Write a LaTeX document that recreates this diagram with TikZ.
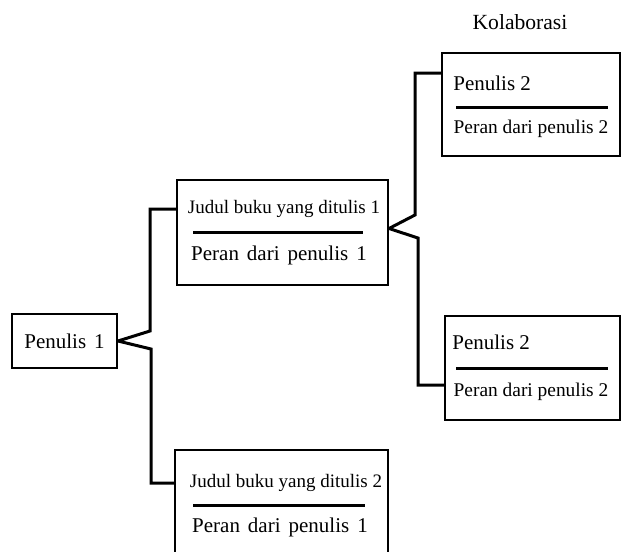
\documentclass[tikz,border=0pt]{standalone}
\usepackage{fontspec}
\setmainfont{Liberation Serif}
\usepackage{tikz}
\usetikzlibrary{positioning, calc}
\newcommand{\widegap}{\spaceskip=4pt plus 1pt minus 0.5pt\relax}
\tikzset{
  rolebox/.style={
    draw, line width=1pt, inner sep=0pt, fill=white
  },
  roletitle/.style={
    font=\fontsize{9.5}{11}\selectfont, inner sep=0pt
  },
  roletext/.style={
    font=\fontsize{10.5}{12}\selectfont\widegap, inner sep=0pt
  },
  roletextsmall/.style={
    font=\fontsize{9.7}{11}\selectfont, inner sep=0pt
  },
  rolerule/.style={line width=1.5pt},
  branchline/.style={line width=1.5pt},
}

\begin{document}
\begin{tikzpicture}[x=0.5pt, y=-0.5pt]
  \useasboundingbox (0,0) rectangle (622,552);

  % ── Penulis utama ──────────────────────────────────────────────
  \node[rolebox, minimum width=52.5pt, minimum height=27pt,
        font=\fontsize{10.5}{12}\selectfont\widegap]
    (pen1) at (64.5,341) {Penulis 1};

  % ── Buku 1 ─────────────────────────────────────────────────────
  \node[rolebox, minimum width=105.5pt, minimum height=52.5pt]
    (judul1) at (282.5,232.5) {};
  \node[roletitle] (judul1t) at (284,209) {Judul buku yang ditulis 1};
  \draw[rolerule] (193,232) -- (363,232);
  \node[roletext] (judul1p) at (279,255) {Peran dari penulis 1};

  % ── Buku 2 ─────────────────────────────────────────────────────
  \node[rolebox, minimum width=106.5pt, minimum height=54pt]
    (judul2) at (281.5,504) {};
  \node[roletitle] (judul2t) at (286,483) {Judul buku yang ditulis 2};
  \draw[rolerule] (193,505) -- (365,505);
  \node[roletext] (judul2p) at (280,527) {Peran dari penulis 1};

  % ── Kolaborasi ─────────────────────────────────────────────────
  \node[font=\fontsize{10.8}{12}\selectfont] (kolab) at (520,22) {Kolaborasi};

  \node[rolebox, minimum width=89pt, minimum height=51.5pt]
    (pen2a) at (531,104.5) {};
  \node[roletext, anchor=west, font=\fontsize{10.5}{12}\selectfont]
    (pen2at) at (453,83) {Penulis 2};
  \draw[rolerule] (456,107) -- (608,107);
  \node[roletextsmall] (pen2ap) at (531,129) {Peran dari penulis 2};

  \node[rolebox, minimum width=87.5pt, minimum height=52pt]
    (pen2b) at (532.5,368) {};
  \node[roletext, anchor=west, font=\fontsize{10.5}{12}\selectfont]
    (pen2bt) at (452,342) {Penulis 2};
  \draw[rolerule] (456,368) -- (608,368);
  \node[roletextsmall] (pen2bp) at (531,392) {Peran dari penulis 2};

  % ── Cabang ─────────────────────────────────────────────────────
  \coordinate (b1u) at (150,331);
  \coordinate (b1d) at (151,349);
  \draw[branchline] (pen1.east) -- (b1u) |- (judul1.west |- judul1t);
  \draw[branchline] (pen1.east) -- (b1d) |- (judul2.west |- judul2t);

  \coordinate (b2u) at (415,215);
  \coordinate (b2d) at (418,238);
  \coordinate (b2top) at (415,73);
  \coordinate (b2bot) at (418,385);
  \draw[branchline] ($(judul1.east)+(0,-4)$) -- (b2u) -- (b2top)
    -- (pen2a.west |- b2top);
  \draw[branchline] ($(judul1.east)+(0,-4)$) -- (b2d) -- (b2bot)
    -- (pen2b.west |- b2bot);
\end{tikzpicture}
\end{document}
